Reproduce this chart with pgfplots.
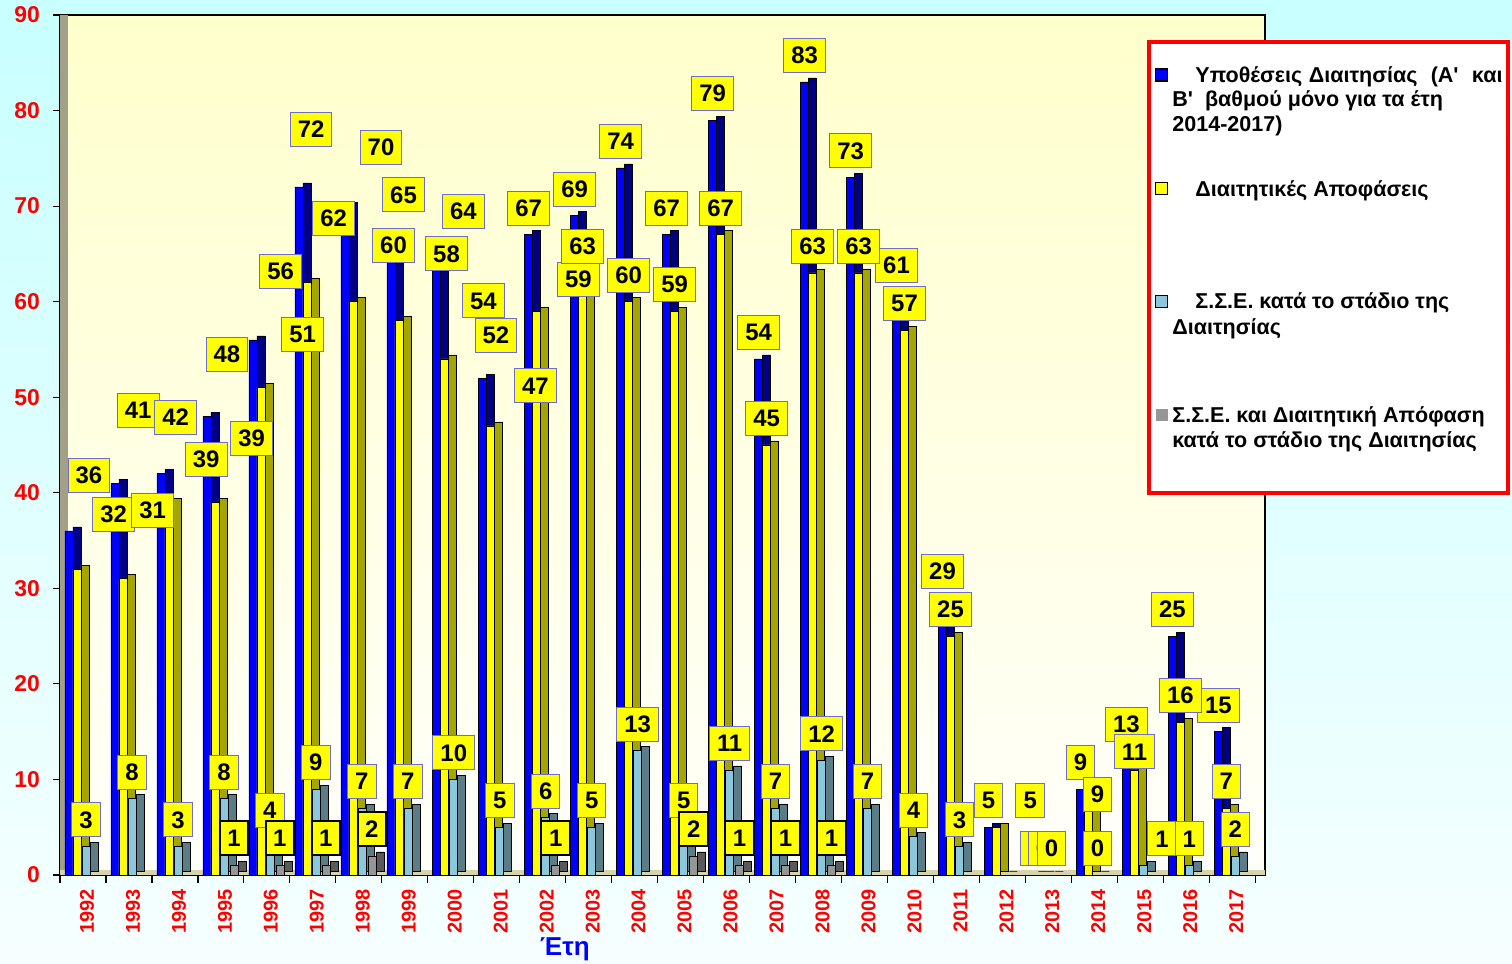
\documentclass[border=0pt]{standalone}
\usepackage{pgfplots}
\pgfplotsset{compat=1.18}
\usepackage{pgfplotstable}
\usepackage{fontspec}
\setmainfont{Liberation Sans}

\definecolor{bgtop}{RGB}{200,255,255}
\definecolor{bgbot}{RGB}{246,255,255}
\definecolor{patop}{RGB}{255,255,204}
\definecolor{pabot}{RGB}{255,255,250}
\definecolor{cblue}{RGB}{0,0,255}
\definecolor{cblueS}{RGB}{0,0,130}
\definecolor{cyel}{RGB}{255,255,0}
\definecolor{cyelS}{RGB}{165,165,0}
\definecolor{clb}{RGB}{140,200,220}
\definecolor{clbS}{RGB}{90,125,135}
\definecolor{cgr}{RGB}{150,150,150}
\definecolor{cgrS}{RGB}{90,90,90}
\definecolor{wallc}{RGB}{163,160,135}
\definecolor{floorc}{RGB}{215,212,170}
\definecolor{lblborder}{RGB}{110,110,200}
\definecolor{axblue}{RGB}{0,0,255}

% year, values of the three series, and label offsets (bp) as placed in the original
\pgfplotstableread{
year b y lb bdx bdy ydx ydy ldx
1992 36 32 3 10 14.6 18.35 14.35 0
1993 41 31 8 11.6 23.1 14.85 20.75 0
1994 42 39 3 7.35 15 18.6 8.15 0
1995 48 39 8 10 17.75 18.35 18.65 0
1996 56 51 4 13.85 21 20.85 13.3 0
1997 72 62 9 6.1 15.5 13.35 18.75 0
1998 70 60 7 18.1 16.2 20.35 15 0
1999 65 58 7 6.35 16.2 23.85 20.15 0
2000 64 54 10 13.3 12.7 19.35 15.75 0
2001 52 47 5 6.6 8.2 22.35 6.75 0
2002 67 59 6 0 0 20.85 2.6 0
2003 69 63 5 0 0 0 0 0
2004 74 60 13 0 0 0 0 0
2005 67 59 5 0 0 0 0 0
2006 79 67 11 0 0 0 0 0
2007 54 45 7 0 0 0 0 0
2008 83 63 12 0 0 0 0 0
2009 73 63 7 0 0 0 0 0
2010 61 57 4 0 0 0 0 0
2011 29 25 3 0 0 0 0 0
2012 5 5 0 0 0 16.85 0 0
2013 0 0 0 0 0 0 0 0
2014 9 9 0 0 0 4.6 -16 0
2015 13 11 1 0 0 0 -4.25 9.35
2016 25 16 1 0 0 0 0 0
2017 15 7 2 0 0 0 0 0
}\data

\pgfplotstableread{
year g
1995 1
1996 1
1997 1
1998 2
2002 1
2005 2
2006 1
2007 1
2008 1
}\gdata

\pgfplotsset{
  lbl/.style={every node near coord/.append style={fill=cyel, draw=lblborder, line width=0.5bp,
      font=\bfseries\fontsize{12}{14}\selectfont, text=black, inner xsep=3.8bp, inner ysep=0pt,
      minimum height=17bp, anchor=south, yshift=4.5bp}},
  side/.style={draw=black, line width=0.3bp, xshift=4bp, yshift=2bp, forget plot},
  front/.style={draw=black, line width=0.3bp, forget plot},
}

\begin{document}
\begin{tikzpicture}
\fill[top color=bgtop, bottom color=bgbot] (-30bp,-44.5bp) rectangle (726bp,437.5bp);
\useasboundingbox (-30bp,-44.5bp) rectangle (726bp,437.5bp);
\begin{axis}[
  at={(0bp,0bp)}, anchor=south west,
  scale only axis, width=602.5bp, height=430bp,
  xmin=1991.5, xmax=2017.71, ymin=0, ymax=90,
  ybar, bar width=4bp,
  /pgf/number format/assume math mode=true,
  /pgf/number format/1000 sep={},
  ytick={0,10,...,90},
  xtick={1992,...,2017},
  minor xtick={1991.5,1992.5,...,2017.5},
  xtick pos=bottom, ytick pos=left,
  tick align=outside,
  major x tick style={draw=none},
  minor x tick style={black, line width=0.6bp},
  minor tick length=4bp,
  major y tick style={black, line width=0.6bp},
  major tick length=3.5bp,
  axis line style={black, line width=0.8bp},
  yticklabel style={text=red, font=\bfseries\fontsize{11.5}{13}\selectfont, xshift=-3bp},
  xticklabel style={text=red, font=\bfseries\fontsize{10}{12}\selectfont, rotate=90, anchor=east, yshift=-2bp},
  xlabel={Έτη},
  xlabel style={at={(axis description cs:0.419,0)}, anchor=north, yshift=-28bp,
      text=axblue, font=\bfseries\fontsize{13}{15}\selectfont},
  axis background/.style={top color=patop, bottom color=pabot},
]
% decorative wall and floor
\fill[wallc] (rel axis cs:0,0) rectangle ([xshift=4bp]rel axis cs:0,1);
\fill[floorc] (axis cs:1991.5,0) rectangle (axis cs:2017.71,0.55);

\addplot[side, fill=cblueS, bar shift=-7bp] table[x=year,y=b]{\data};
\addplot[front, fill=cblue, bar shift=-7bp] table[x=year,y=b]{\data};
\addplot[side, fill=cyelS, bar shift=-3bp] table[x=year,y=y]{\data};
\addplot[front, fill=cyel, bar shift=-3bp] table[x=year,y=y]{\data};
\addplot[side, fill=clbS, bar shift=1.5bp] table[x=year,y=lb]{\data};
\addplot[front, fill=clb, bar shift=1.5bp] table[x=year,y=lb]{\data};
\addplot[side, fill=cgrS, bar shift=6.5bp] table[x=year,y=g]{\gdata};
\addplot[front, fill=cgr, bar shift=6.5bp] table[x=year,y=g]{\gdata};

% value labels
\addplot[forget plot, draw=none, fill=none, bar shift=-7bp, nodes near coords, lbl,
  visualization depends on={\thisrow{bdx}\as\ldx},
  visualization depends on={\thisrow{bdy}\as\ldy},
  every node near coord/.append style={xshift=\ldx bp, yshift=\ldy bp}] table[x=year,y=b]{\data};
\addplot[forget plot, draw=none, fill=none, bar shift=-3bp, nodes near coords, lbl,
  visualization depends on={\thisrow{ydx}\as\ldx},
  visualization depends on={\thisrow{ydy}\as\ldy},
  every node near coord/.append style={xshift=\ldx bp, yshift=\ldy bp}] table[x=year,y=y]{\data};
\addplot[forget plot, draw=none, fill=none, bar shift=1.5bp, nodes near coords, lbl,
  skip coords between index={20}{21},
  visualization depends on={\thisrow{ldx}\as\ldx},
  every node near coord/.append style={xshift=\ldx bp}] table[x=year,y=lb]{\data};
\addplot[forget plot, draw=none, fill=none, bar shift=6.5bp, nodes near coords, lbl,
  every node near coord/.append style={draw=black, line width=1bp}] table[x=year,y=g]{\gdata};
\end{axis}

% legend
\begin{scope}[font=\bfseries\fontsize{10.8}{13}\selectfont]
\draw[red, line width=2bp, fill=white] (544.5bp,191bp) rectangle (724bp,416.5bp);
\draw[fill=cblue, line width=0.7bp] (547.75bp,397bp) rectangle (553.75bp,403bp);
\draw[fill=cyel, line width=0.7bp] (547.75bp,340.25bp) rectangle (553.75bp,346.25bp);
\draw[fill=clb, line width=0.7bp] (547.75bp,283.75bp) rectangle (553.75bp,289.75bp);
\fill[cgr] (547.75bp,227bp) rectangle (553.75bp,233bp);
\node[anchor=base west, inner sep=0pt] at (567.5bp,396bp) {\makebox[153.5bp][s]{Υποθέσεις Διαιτησίας\ \ (Α\textquotesingle\ \ και}};
\node[anchor=base west, inner sep=0pt] at (556bp,384bp) {Β\textquotesingle\ \ βαθμού μόνο για τα έτη};
\node[anchor=base west, inner sep=0pt] at (556bp,371.5bp) {2014-2017)};
\node[anchor=base west, inner sep=0pt] at (567.5bp,339.2bp) {Διαιτητικές Αποφάσεις};
\node[anchor=base west, inner sep=0pt] at (567.5bp,283bp) {Σ.Σ.Ε. κατά το στάδιο της};
\node[anchor=base west, inner sep=0pt] at (556bp,270bp) {Διαιτησίας};
\node[anchor=base west, inner sep=0pt] at (556bp,226bp) {Σ.Σ.Ε. και Διαιτητική Απόφαση};
\node[anchor=base west, inner sep=0pt] at (556bp,213.5bp) {κατά το στάδιο της Διαιτησίας};
\end{scope}
\end{tikzpicture}
\end{document}
